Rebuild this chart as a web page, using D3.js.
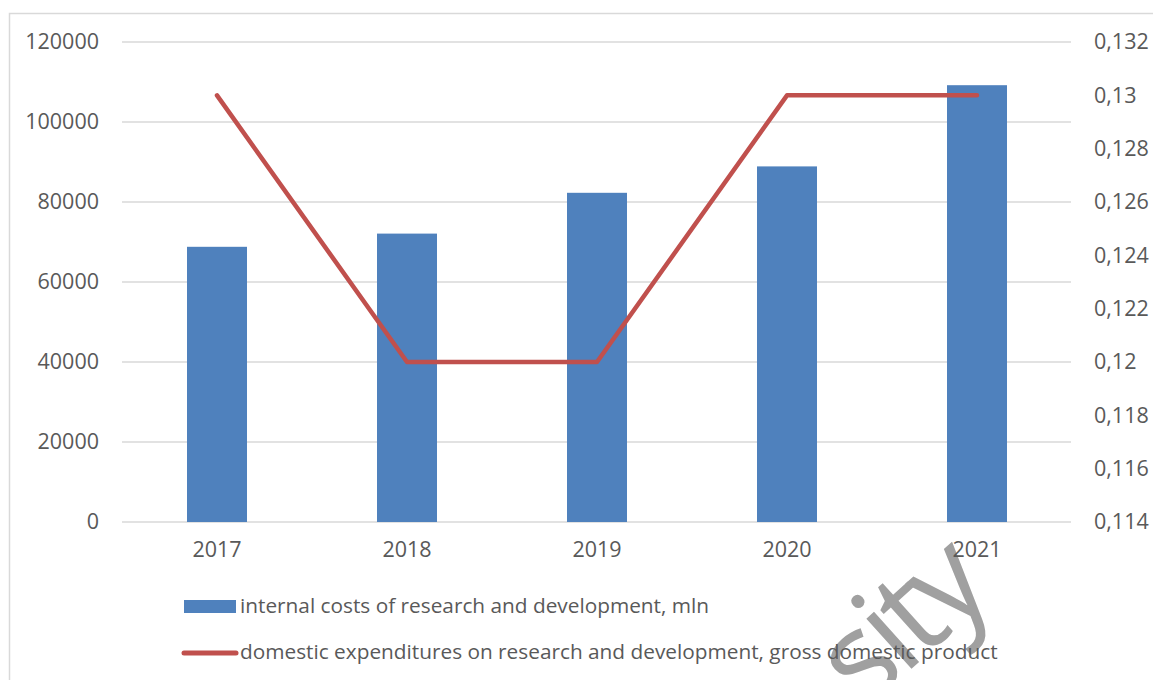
<!DOCTYPE html>
<html><head><meta charset="utf-8">
<script src="https://cdn.jsdelivr.net/npm/d3@7"></script>
<style>
html,body{margin:0;padding:0;background:#fff;}
svg{display:block;font-family:"Open Sans",sans-serif;}
</style></head>
<body>
<svg id="chart" width="1153" height="680"></svg>
<script>
const years = ["2017","2018","2019","2020","2021"];
const internalCosts = [68800, 72100, 82300, 88900, 109200];
const gerdShare = [0.13, 0.12, 0.12, 0.13, 0.13];
const leftTicks = [0, 20000, 40000, 60000, 80000, 100000, 120000];
const rightTicks = [0.114, 0.116, 0.118, 0.12, 0.122, 0.124, 0.126, 0.128, 0.13, 0.132];
const seriesNames = ["internal costs of research and development, mln",
  "domestic expenditures on research and development, gross domestic product"];
const watermark = "sity";

const svg = d3.select("#chart");
const textColor = "#595959", gridColor = "#d9d9d9";
const barColor = "#4F81BD", lineColor = "#C0504D";

// frame
svg.append("rect").attr("x",9.5).attr("y",13.5).attr("width",1200).attr("height",700)
  .attr("fill","none").attr("stroke",gridColor).attr("stroke-width",1.5);

// watermark (behind everything)
svg.append("text").text(watermark)
  .attr("transform","translate(928,654) rotate(-42)")
  .attr("text-anchor","middle").attr("font-size",126).attr("letter-spacing",-7)
  .attr("font-weight",500)
  .attr("font-family","Open Sans").attr("fill","#a0a0a0");

const x = d3.scaleBand().domain(years).range([122,1072]).paddingInner(0.6842).paddingOuter(0.3421);
const yL = d3.scaleLinear().domain([0,120000]).range([522,42]);
const yR = d3.scaleLinear().domain([0.114,0.132]).range([522,42]);

// gridlines
svg.append("g").selectAll("line").data(leftTicks).join("line")
  .attr("x1",122).attr("x2",1071).attr("y1",d=>yL(d)).attr("y2",d=>yL(d))
  .attr("stroke",gridColor).attr("stroke-width",1.5);

// left axis labels
const gl = svg.append("g").attr("transform","translate(99,0)")
  .call(d3.axisLeft(yL).tickValues(leftTicks).tickSize(0).tickPadding(0).tickFormat(d3.format("d")));
gl.select(".domain").remove();
gl.selectAll("text").attr("fill",textColor).attr("font-size",21.5).attr("font-family","Open Sans");

// right axis labels
const fmtR = d => String(+d.toFixed(3)).replace(".",",");
const gr = svg.append("g").attr("transform","translate(1094,0)")
  .call(d3.axisRight(yR).tickValues(rightTicks).tickSize(0).tickPadding(0).tickFormat(fmtR));
gr.select(".domain").remove();
gr.selectAll("text").attr("fill",textColor).attr("font-size",21.5).attr("font-family","Open Sans");

// bars
svg.append("g").selectAll("rect").data(years).join("rect")
  .attr("x",d=>x(d)).attr("width",x.bandwidth())
  .attr("y",(d,i)=>yL(internalCosts[i])).attr("height",(d,i)=>yL(0)-yL(internalCosts[i]))
  .attr("fill",barColor);

// x axis labels
const gx = svg.append("g").attr("transform","translate(0,541)")
  .call(d3.axisBottom(x).tickSize(0).tickPadding(0));
gx.select(".domain").remove();
gx.selectAll("text").attr("fill",textColor).attr("font-size",21.5).attr("font-family","Open Sans").attr("dy","0.75em");

// line
const line = d3.line().x((d,i)=>x(years[i])+x.bandwidth()/2).y(d=>yR(d));
svg.append("path").datum(gerdShare).attr("d",line).attr("fill","none")
  .attr("stroke",lineColor).attr("stroke-width",4.5).attr("stroke-linecap","round").attr("stroke-linejoin","round");

// legend
const lg = svg.append("g");
lg.append("rect").attr("x",184).attr("y",600).attr("width",52).attr("height",13).attr("fill",barColor);
lg.append("line").attr("x1",184).attr("x2",236).attr("y1",653).attr("y2",653)
  .attr("stroke",lineColor).attr("stroke-width",5).attr("stroke-linecap","round");
lg.selectAll("text").data(seriesNames).join("text")
  .attr("x",240).attr("y",(d,i)=>i===0?606:652).attr("dy","0.35em")
  .attr("fill",textColor).attr("font-size",20.8).attr("font-family","Open Sans")
  .text(d=>d);
</script>
</body></html>
